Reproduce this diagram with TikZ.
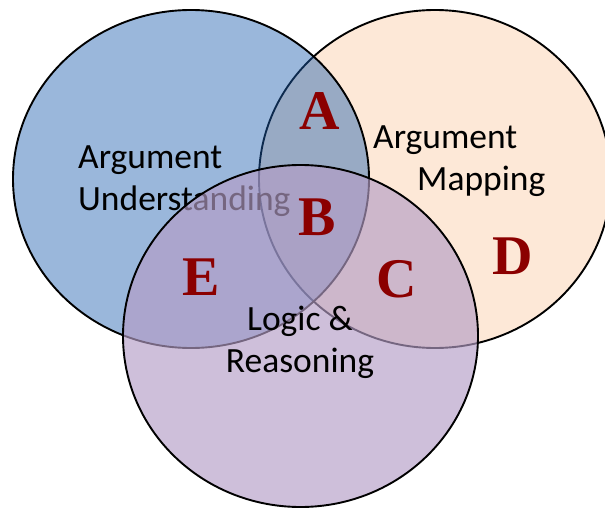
\documentclass[tikz,border=0pt]{standalone}
\usepackage{fontspec}
\setmainfont{Carlito}
\newfontfamily\letterfont{Liberation Serif}
\usetikzlibrary{positioning}

\definecolor{mapfill}{RGB}{253,232,215}
\definecolor{underfill}{RGB}{31,95,175}
\definecolor{logicfill}{RGB}{180,157,198}
\definecolor{lettercol}{RGB}{139,0,0}

\begin{document}
\begin{tikzpicture}[x=1pt, y=-1pt,
  setfill/.style={draw=black, line width=1.9pt},
  label/.style={inner sep=0pt, font=\fontsize{35.5}{42}\selectfont},
  letter/.style={inner sep=0pt, anchor=base, text=lettercol, font=\fontsize{56}{60}\selectfont\letterfont\bfseries}]

\useasboundingbox (0,0) rectangle (605,508);
\clip (0,0) rectangle (605,508);

% argument mapping
\draw[setfill, fill=mapfill] (435,179) ellipse [x radius=176, y radius=169];
% argument understanding
\draw[setfill, fill=underfill, fill opacity=0.45] (191,179) ellipse [x radius=178, y radius=169];

\node[label, anchor=base west, align=left] (under) at (78,210) {Argument\\Understanding};
\node[label, anchor=base west, align=left] (mapping) at (373,190) {Argument\\\hspace*{44pt}Mapping};

% logic & reasoning
\draw[setfill, fill=logicfill, fill opacity=0.65] (300.5,336) ellipse [x radius=177.5, y radius=171];

\node[label, anchor=base, align=center] (logic) at (300,372) {Logic \&\\Reasoning};

\node[letter] (a) at (320,130) {A};
\node[letter] (b) at (317,235) {B};
\node[letter] (c) at (397,297) {C};
\node[letter] (d) at (513,274) {D};
\node[letter] (e) at (201,295) {E};

\end{tikzpicture}
\end{document}
